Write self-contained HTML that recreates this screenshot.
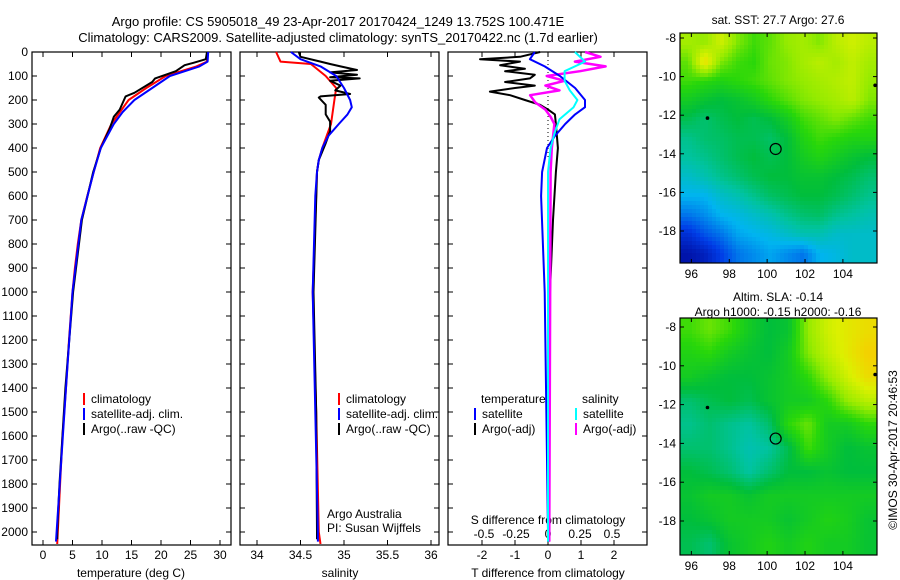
<!DOCTYPE html>
<html><head><meta charset="utf-8"><style>
html,body{margin:0;padding:0;background:#fff;}
svg{display:block;font-family:"Liberation Sans",sans-serif;font-size:12px;}
</style></head><body>
<svg id="fig" width="900" height="580" viewBox="0 0 900 580" xmlns="http://www.w3.org/2000/svg">
<rect width="900" height="580" fill="#fff"/>
<text x="338" y="26" text-anchor="middle" font-size="13">Argo profile: CS 5905018_49 23-Apr-2017 20170424_1249 13.752S 100.471E</text>
<text x="338" y="42" text-anchor="middle" font-size="13">Climatology: CARS2009. Satellite-adjusted climatology: synTS_20170422.nc (1.7d earlier)</text>
<text x="778" y="24" text-anchor="middle">sat. SST: 27.7 Argo: 27.6</text>
<text x="778" y="301" text-anchor="middle">Altim. SLA: -0.14</text>
<text x="778" y="316" text-anchor="middle">Argo h1000: -0.15 h2000: -0.16</text>
<g id="plots"></g>
<text transform="translate(897,450) rotate(-90)" text-anchor="middle" font-size="12">©IMOS 30-Apr-2017 20:46:53</text>
</svg>
<script>
// ---- data ----
const tDepth = [0,40,60,100,150,200,300,400,500,600,700,800,900,1000,1200,1400,1600,1800,2000,2050];
const tClim  = [27.8,27.8,26,20.8,17.5,14.5,11.6,9.7,8.6,7.5,6.5,5.9,5.4,5.0,4.4,3.9,3.3,2.9,2.5,2.4];
const tSatD  = [0,40,60,100,150,200,250,300,400,500,700,1000,1400,2000,2040];
const tSat   = [28.0,27.9,26.5,21.5,18.5,15.5,13.5,12.0,9.8,8.6,6.5,5.0,3.9,2.3,2.2];
const tArgoD = [0,30,45,55,80,110,125,170,185,240,270,320,400,500,700,1000,1400,1800,2000,2030];
const tArgo  = [27.8,27.6,25.5,24,22.5,19,18.5,15.5,14,13,12,11.3,9.8,8.5,6.6,5.1,3.8,2.8,2.4,2.4];

const sDepth = [0,40,50,100,150,200,300,400,450,500,1000,1500,2000,2050];
const sClim  = [34.22,34.27,34.62,34.79,34.91,34.89,34.85,34.75,34.71,34.69,34.64,34.68,34.71,34.73];
const sSatD  = [0,30,60,100,150,200,230,260,300,350,400,450,500,600,1000,1500,2000,2040];
const sSat   = [34.39,34.5,34.73,34.91,35.0,35.07,35.09,35.04,34.94,34.82,34.75,34.71,34.69,34.67,34.64,34.67,34.7,34.7];
const sArgoD = [0,20,40,50,60,75,85,95,105,110,120,140,160,175,185,190,220,260,290,330,380,450,500,1000,1500,2000,2030];
const sArgo  = [34.48,34.5,34.73,34.84,34.96,35.15,34.84,35.15,34.84,35.18,34.84,34.96,34.9,35.07,34.73,34.71,34.79,34.79,34.84,34.84,34.79,34.71,34.69,34.65,34.68,34.69,34.69];

const dTD   = [0,20,30,40,55,70,80,95,110,125,140,150,165,180,200,220,240,260,300,400,500,700,1000,2000,2040];
const dTArgo= [-0.24,-0.85,-2.06,-0.85,-1.45,-0.7,-1.3,-0.4,-0.55,-1.3,-0.4,-1.0,-1.76,-1.15,-0.7,-0.24,0,0.21,0.24,0.3,0.24,0.15,0.06,0.03,0.03];
const dTSD  = [0,30,60,100,150,200,230,260,300,350,400,500,600,1000,2000,2040];
const dTSat = [-0.4,-0.55,-0.1,0.36,0.82,1.12,1.12,0.82,0.52,0.21,-0.03,-0.18,-0.21,-0.1,0,0];
const dSSD  = [0,40,80,120,160,200,230,280,340,400,500,2000,2040];
const dSSat = [0.21,0.29,0.13,0.13,0.17,0.23,0.2,0.09,0.05,0.02,0,0,0];
const dSAD  = [0,20,40,60,80,100,120,140,160,180,210,240,270,300,400,500,2000,2040];
const dSArgo= [0.29,0.41,0.21,0.45,0.25,-0.01,0.13,-0.02,0.09,-0.14,-0.1,-0.02,0.02,0.05,0.03,0.02,0.01,0.01];

const depthTicks = [0,100,200,300,400,500,600,700,800,900,1000,1100,1200,1300,1400,1500,1600,1700,1800,1900,2000];
const tTicks = [0,5,10,15,20,25,30];
const sTicks = [34,34.5,35,35.5,36];
const dTTicks = [-2,-1,0,1,2];
const dSTicks = [-0.5,-0.25,0,0.25,0.5];
const dSTickLabels = ["-0.5","-0.25","0","0.25","0.5"];

const sstGrid = [
[.72,.70,.78,.68,.62,.65,.70,.72,.68,.75,.78,.75],
[.65,.85,.68,.62,.60,.66,.68,.72,.75,.72,.76,.72],
[.62,.60,.58,.60,.62,.65,.68,.70,.72,.74,.76,.70],
[.55,.52,.50,.52,.55,.60,.64,.68,.70,.72,.75,.68],
[.48,.45,.48,.50,.48,.50,.55,.62,.65,.68,.65,.62],
[.42,.45,.46,.48,.48,.46,.50,.58,.62,.60,.58,.58],
[.40,.42,.45,.48,.50,.48,.50,.55,.58,.55,.52,.50],
[.35,.38,.42,.45,.48,.50,.50,.52,.52,.50,.48,.45],
[.30,.30,.35,.38,.42,.46,.48,.50,.50,.48,.45,.42],
[.22,.25,.30,.32,.35,.38,.42,.45,.46,.42,.40,.38],
[.12,.18,.22,.28,.30,.32,.35,.38,.38,.35,.35,.35],
[.05,.08,.15,.22,.25,.28,.25,.22,.30,.32,.35,.35]];
const slaGrid = [
[.62,.66,.62,.55,.50,.52,.70,.78,.82,.85],
[.58,.60,.55,.52,.50,.55,.68,.76,.82,.88],
[.55,.52,.50,.50,.52,.55,.60,.70,.78,.85],
[.45,.48,.50,.48,.52,.55,.55,.60,.70,.75],
[.42,.45,.42,.40,.45,.60,.66,.55,.55,.60],
[.45,.45,.42,.38,.40,.48,.62,.55,.50,.52],
[.50,.48,.45,.40,.45,.50,.50,.52,.50,.50],
[.52,.55,.55,.52,.55,.55,.55,.55,.55,.55],
[.50,.52,.55,.55,.55,.52,.55,.58,.56,.52],
[.48,.45,.52,.55,.58,.55,.58,.55,.55,.52]];
const lonTicks = [96,98,100,102,104];
const latTicks = [-8,-10,-12,-14,-16,-18];
const argoPos = [100.45,-13.75];
const otherFloats = [[96.85,-12.15],[105.7,-10.45]];

// ---- drawing ----
const NS="http://www.w3.org/2000/svg";
const root=document.getElementById('plots');
function mk(tag,attrs,parent){const e=document.createElementNS(NS,tag);for(const k in attrs)e.setAttribute(k,attrs[k]);(parent||root).appendChild(e);return e;}
const top0=52, bot=545;
const yD=d=>top0+d*0.24;
const panels=[
 {x0:32,x1:231,name:'temperature',sx:v=>43+v*5.9},
 {x0:240,x1:439,name:'salinity',sx:v=>257+(v-34)*87},
 {x0:448,x1:647,name:'difference',sx:v=>548+v*33}
];
const sxS=v=>548+v*128;
function line(xs,ds,sx,color,w,name){
  let p='';for(let i=0;i<xs.length;i++)p+=(i?'L':'M')+sx(xs[i]).toFixed(1)+','+yD(ds[i]).toFixed(1);
  const e=mk('path',{d:p,fill:'none',stroke:color,'stroke-width':w,'stroke-linejoin':'round'});
  
  
}
panels.forEach((P,pi)=>{
  const r=mk('rect',{x:P.x0,y:top0,width:P.x1-P.x0,height:bot-top0,fill:'none',stroke:'#000','stroke-width':1.2});
  
  
  depthTicks.forEach(d=>{
    mk('line',{x1:P.x0,x2:P.x0+5,y1:yD(d),y2:yD(d),stroke:'#000'});
    mk('line',{x1:P.x1,x2:P.x1-5,y1:yD(d),y2:yD(d),stroke:'#000'});
  });
});
depthTicks.forEach(d=>{
  const t=mk('text',{x:28,y:yD(d)+4,'text-anchor':'end'});t.textContent=d;
  
  
});
function xticks(P,ticks,labels,sx,ly){
  ticks.forEach((v,i)=>{
    const x=sx(v);
    mk('line',{x1:x,x2:x,y1:bot,y2:bot-5,stroke:'#000'});
    mk('line',{x1:x,x2:x,y1:top0,y2:top0+5,stroke:'#000'});
    const t=mk('text',{x:x,y:ly,'text-anchor':'middle'});t.textContent=labels?labels[i]:v;
    
    
  });
}
xticks(panels[0],tTicks,null,panels[0].sx,559);
xticks(panels[1],sTicks,null,panels[1].sx,559);
xticks(panels[2],dTTicks,null,panels[2].sx,559);
dSTicks.forEach((v,i)=>{const t=mk('text',{x:sxS(v),y:538,'text-anchor':'middle'});t.textContent=dSTickLabels[i];
  
  });
[['temperature (deg C)',131,'x-axis-title-temperature'],['salinity',340,'x-axis-title-salinity'],['T difference from climatology',548,'x-axis-title-t-diff']].forEach(a=>{
  const t=mk('text',{x:a[1],y:577,'text-anchor':'middle'});t.textContent=a[0];
  
  
});
{const t=mk('text',{x:548,y:524,'text-anchor':'middle'});t.textContent='S difference from climatology';
 
 }
mk('line',{x1:548,x2:548,y1:top0,y2:yD(450),stroke:'#000','stroke-dasharray':'1,3'});

line(tClim,tDepth,panels[0].sx,'#f00',2,'temp-climatology-line');
line(tArgo,tArgoD,panels[0].sx,'#000',2,'temp-argo-line');
line(tSat,tSatD,panels[0].sx,'#00f',2,'temp-satellite-line');
line(sClim,sDepth,panels[1].sx,'#f00',2,'sal-climatology-line');
line(sArgo,sArgoD,panels[1].sx,'#000',2,'sal-argo-line');
line(sSat,sSatD,panels[1].sx,'#00f',2,'sal-satellite-line');
line(dTArgo,dTD,panels[2].sx,'#000',2,'tdiff-argo-line');
line(dSArgo,dSAD,sxS,'#f0f',2.5,'sdiff-argo-line');
line(dTSat,dTSD,panels[2].sx,'#00f',2,'tdiff-satellite-line');
line(dSSat,dSSD,sxS,'#0ff',2,'sdiff-satellite-line');

function legend(x,y,color,label,name){
  mk('rect',{x:x,y:y-10,width:2,height:12,fill:color});
  const t=mk('text',{x:x+8,y:y});t.textContent=label;
  
  
}
legend(83,403,'#f00','climatology','legend-temp-climatology');
legend(83,418,'#00f','satellite-adj. clim.','legend-temp-satellite');
legend(83,433,'#000','Argo(..raw -QC)','legend-temp-argo');
legend(338,403,'#f00','climatology','legend-sal-climatology');
legend(338,418,'#00f','satellite-adj. clim.','legend-sal-satellite');
legend(338,433,'#000','Argo(..raw -QC)','legend-sal-argo');
{const t=mk('text',{x:481,y:403});t.textContent='temperature';}
{const t=mk('text',{x:582,y:403});t.textContent='salinity';}
legend(474,418,'#00f','satellite','legend-tdiff-satellite');
legend(474,433,'#000','Argo(-adj)','legend-tdiff-argo');
legend(575,418,'#0ff','satellite','legend-sdiff-satellite');
legend(575,433,'#f0f','Argo(-adj)','legend-sdiff-argo');
{const t=mk('text',{x:327,y:518});t.textContent='Argo Australia';}
{const t=mk('text',{x:327,y:532});t.textContent='PI: Susan Wijffels';}

// ---- maps ----
const stops=[[0,[0,0,140]],[.15,[0,60,230]],[.3,[0,180,240]],[.4,[0,195,160]],[.5,[0,190,60]],[.6,[40,215,10]],[.7,[150,235,0]],[.8,[220,240,0]],[.9,[250,200,0]],[1,[240,120,0]]];
function cmap(v){v=Math.max(0,Math.min(1,v));for(let i=1;i<stops.length;i++){if(v<=stops[i][0]){const a=stops[i-1],b=stops[i],f=(v-a[0])/(b[0]-a[0]);return 'rgb('+a[1].map((c,k)=>Math.round(c+(b[1][k]-c)*f)).join(',')+')';}}return 'rgb(240,120,0)';}
function drawMap(M,grid,cell,name){
  const g=mk('g',{});
  
  
  const lx=lon=>M.x0+(lon-95.4)*(M.x1-M.x0)/10.4;
  const ly=lat=>M.y8+(-8-lat)*M.k;
  const W=M.x1-M.x0,H=M.y1-M.y0,R=grid.length,C=grid[0].length;
  for(let y=0;y<H;y+=cell)for(let x=0;x<W;x+=cell){
    const gx=Math.max(0,Math.min(C-1.001,(x+cell/2)/W*C-0.5)),gy=Math.max(0,Math.min(R-1.001,(y+cell/2)/H*R-0.5));
    const i=Math.floor(gy),j=Math.floor(gx),fy=gy-i,fx=gx-j;
    const v=grid[i][j]*(1-fx)*(1-fy)+grid[i][j+1]*fx*(1-fy)+grid[i+1][j]*(1-fx)*fy+grid[i+1][j+1]*fx*fy;
    mk('rect',{x:M.x0+x,y:M.y0+y,width:Math.min(cell,W-x)+0.3,height:Math.min(cell,H-y)+0.3,fill:cmap(v)},g);
  }
  mk('rect',{x:M.x0,y:M.y0,width:W,height:H,fill:'none',stroke:'#000','stroke-width':1.2});
  lonTicks.forEach(l=>{const x=lx(l);mk('line',{x1:x,x2:x,y1:M.y1,y2:M.y1-4,stroke:'#000'});mk('line',{x1:x,x2:x,y1:M.y0,y2:M.y0+4,stroke:'#000'});
    const t=mk('text',{x:x,y:M.y1+15,'text-anchor':'middle'});t.textContent=l;
    
    });
  latTicks.forEach(l=>{const y=ly(l);mk('line',{x1:M.x0,x2:M.x0+4,y1:y,y2:y,stroke:'#000'});mk('line',{x1:M.x1,x2:M.x1-4,y1:y,y2:y,stroke:'#000'});
    const t=mk('text',{x:M.x0-4,y:y+4,'text-anchor':'end'});t.textContent=l;
    
    });
  const c=mk('circle',{cx:lx(argoPos[0]),cy:ly(argoPos[1]),r:5.5,fill:'none',stroke:'#000','stroke-width':1.2});
  
  
  otherFloats.forEach(f=>{const d=mk('circle',{cx:lx(f[0]),cy:ly(f[1]),r:1.8,fill:'#000'});
    
    });
}
drawMap({x0:680,x1:877,y0:33,y1:263,y8:38,k:19.3},sstGrid,4,'sst-map');
drawMap({x0:680,x1:877,y0:318,y1:555,y8:327,k:19.4},slaGrid,4,'sla-map');
</script>
</body></html>
